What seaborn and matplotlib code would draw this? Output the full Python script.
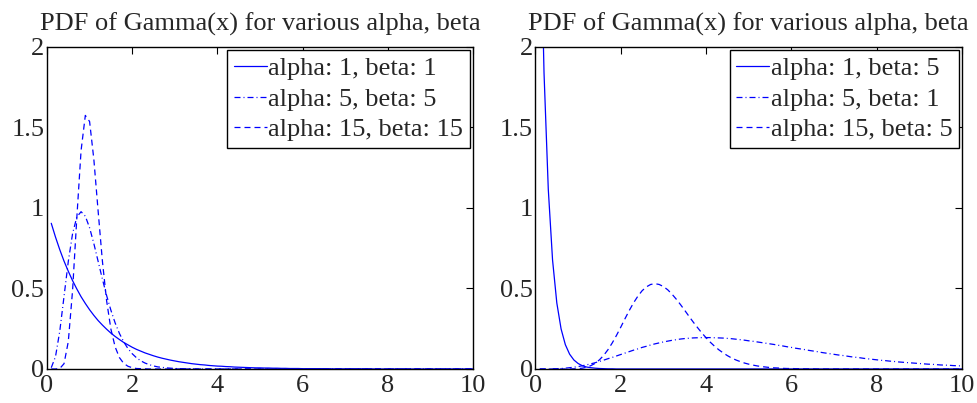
import numpy as np
import pandas as pd
import seaborn as sns
import matplotlib
matplotlib.use("Agg")
import matplotlib.pyplot as plt

# sample positions (common x grid of the curves)
x_grid = np.round(np.arange(1, 101) * 0.1, 1)

# ---- left panel series ----
left_a1_b1 = [0.905, 0.819, 0.741, 0.670, 0.607, 0.549, 0.497, 0.449, 0.407, 0.368,
              0.333, 0.301, 0.273, 0.247, 0.223, 0.202, 0.183, 0.165, 0.150, 0.135,
              0.122, 0.111, 0.100, 0.091, 0.082, 0.074, 0.067, 0.061, 0.055, 0.050,
              0.045, 0.041, 0.037, 0.033, 0.030, 0.027, 0.025, 0.022, 0.020, 0.018,
              0.017, 0.015, 0.014, 0.012, 0.011, 0.010, 0.009, 0.008, 0.007, 0.007,
              0.006, 0.006, 0.005, 0.005, 0.004, 0.004, 0.003, 0.003, 0.003, 0.002,
              0.002, 0.002, 0.002, 0.002, 0.002, 0.001, 0.001, 0.001, 0.001, 0.001,
              0.001, 0.001, 0.001, 0.001, 0.001, 0.001, 0.000, 0.000, 0.000, 0.000,
              0.000, 0.000, 0.000, 0.000, 0.000, 0.000, 0.000, 0.000, 0.000, 0.000,
              0.000, 0.000, 0.000, 0.000, 0.000, 0.000, 0.000, 0.000, 0.000, 0.000]
left_a5_b5 = [0.008, 0.077, 0.235, 0.451, 0.668, 0.840, 0.944, 0.977, 0.949, 0.877,
              0.779, 0.669, 0.559, 0.456, 0.365, 0.286, 0.221, 0.169, 0.127, 0.095,
              0.070, 0.051, 0.037, 0.027, 0.019, 0.013, 0.010, 0.007, 0.005, 0.003,
              0.002, 0.002, 0.001, 0.001, 0.000, 0.000, 0.000, 0.000, 0.000, 0.000,
              0.000, 0.000, 0.000, 0.000, 0.000, 0.000, 0.000, 0.000, 0.000, 0.000,
              0.000, 0.000, 0.000, 0.000, 0.000, 0.000, 0.000, 0.000, 0.000, 0.000,
              0.000, 0.000, 0.000, 0.000, 0.000, 0.000, 0.000, 0.000, 0.000, 0.000,
              0.000, 0.000, 0.000, 0.000, 0.000, 0.000, 0.000, 0.000, 0.000, 0.000,
              0.000, 0.000, 0.000, 0.000, 0.000, 0.000, 0.000, 0.000, 0.000, 0.000,
              0.000, 0.000, 0.000, 0.000, 0.000, 0.000, 0.000, 0.000, 0.000, 0.000]
left_a15_b15 = [0.000, 0.000, 0.003, 0.033, 0.170, 0.486, 0.938, 1.357, 1.575, 1.537,
                1.302, 0.982, 0.672, 0.423, 0.248, 0.137, 0.071, 0.035, 0.017, 0.008,
                0.003, 0.002, 0.001, 0.000, 0.000, 0.000, 0.000, 0.000, 0.000, 0.000,
                0.000, 0.000, 0.000, 0.000, 0.000, 0.000, 0.000, 0.000, 0.000, 0.000,
                0.000, 0.000, 0.000, 0.000, 0.000, 0.000, 0.000, 0.000, 0.000, 0.000,
                0.000, 0.000, 0.000, 0.000, 0.000, 0.000, 0.000, 0.000, 0.000, 0.000,
                0.000, 0.000, 0.000, 0.000, 0.000, 0.000, 0.000, 0.000, 0.000, 0.000,
                0.000, 0.000, 0.000, 0.000, 0.000, 0.000, 0.000, 0.000, 0.000, 0.000,
                0.000, 0.000, 0.000, 0.000, 0.000, 0.000, 0.000, 0.000, 0.000, 0.000,
                0.000, 0.000, 0.000, 0.000, 0.000, 0.000, 0.000, 0.000, 0.000, 0.000]

# ---- right panel series ----
right_a1_b5 = [3.033, 1.839, 1.116, 0.677, 0.410, 0.249, 0.151, 0.092, 0.056, 0.034,
               0.020, 0.012, 0.008, 0.005, 0.003, 0.002, 0.001, 0.001, 0.000, 0.000,
               0.000, 0.000, 0.000, 0.000, 0.000, 0.000, 0.000, 0.000, 0.000, 0.000,
               0.000, 0.000, 0.000, 0.000, 0.000, 0.000, 0.000, 0.000, 0.000, 0.000,
               0.000, 0.000, 0.000, 0.000, 0.000, 0.000, 0.000, 0.000, 0.000, 0.000,
               0.000, 0.000, 0.000, 0.000, 0.000, 0.000, 0.000, 0.000, 0.000, 0.000,
               0.000, 0.000, 0.000, 0.000, 0.000, 0.000, 0.000, 0.000, 0.000, 0.000,
               0.000, 0.000, 0.000, 0.000, 0.000, 0.000, 0.000, 0.000, 0.000, 0.000,
               0.000, 0.000, 0.000, 0.000, 0.000, 0.000, 0.000, 0.000, 0.000, 0.000,
               0.000, 0.000, 0.000, 0.000, 0.000, 0.000, 0.000, 0.000, 0.000, 0.000]
right_a5_b1 = [0.000, 0.000, 0.000, 0.001, 0.002, 0.003, 0.005, 0.008, 0.011, 0.015,
               0.020, 0.026, 0.032, 0.039, 0.047, 0.055, 0.064, 0.072, 0.081, 0.090,
               0.099, 0.108, 0.117, 0.125, 0.134, 0.141, 0.149, 0.156, 0.162, 0.168,
               0.173, 0.178, 0.182, 0.186, 0.189, 0.191, 0.193, 0.194, 0.195, 0.195,
               0.195, 0.194, 0.193, 0.192, 0.190, 0.188, 0.185, 0.182, 0.179, 0.175,
               0.172, 0.168, 0.164, 0.160, 0.156, 0.152, 0.147, 0.143, 0.138, 0.134,
               0.129, 0.125, 0.121, 0.116, 0.112, 0.108, 0.103, 0.099, 0.095, 0.091,
               0.087, 0.084, 0.080, 0.076, 0.073, 0.070, 0.066, 0.063, 0.060, 0.057,
               0.054, 0.052, 0.049, 0.047, 0.044, 0.042, 0.040, 0.038, 0.036, 0.034,
               0.032, 0.030, 0.029, 0.027, 0.025, 0.024, 0.023, 0.021, 0.020, 0.019]
right_a15_b5 = [0.000, 0.000, 0.000, 0.000, 0.000, 0.000, 0.000, 0.000, 0.001, 0.002,
                0.005, 0.011, 0.021, 0.035, 0.057, 0.085, 0.120, 0.162, 0.209, 0.260,
                0.313, 0.364, 0.411, 0.452, 0.486, 0.510, 0.525, 0.530, 0.525, 0.512,
                0.492, 0.465, 0.434, 0.400, 0.364, 0.327, 0.291, 0.257, 0.224, 0.194,
                0.166, 0.141, 0.119, 0.100, 0.083, 0.068, 0.056, 0.046, 0.037, 0.030,
                0.024, 0.019, 0.015, 0.012, 0.009, 0.007, 0.006, 0.004, 0.003, 0.003,
                0.002, 0.002, 0.001, 0.001, 0.001, 0.000, 0.000, 0.000, 0.000, 0.000,
                0.000, 0.000, 0.000, 0.000, 0.000, 0.000, 0.000, 0.000, 0.000, 0.000,
                0.000, 0.000, 0.000, 0.000, 0.000, 0.000, 0.000, 0.000, 0.000, 0.000,
                0.000, 0.000, 0.000, 0.000, 0.000, 0.000, 0.000, 0.000, 0.000, 0.000]

left_labels = ["alpha: 1, beta: 1", "alpha: 5, beta: 5", "alpha: 15, beta: 15"]
right_labels = ["alpha: 1, beta: 5", "alpha: 5, beta: 1", "alpha: 15, beta: 5"]
title_text = "PDF of Gamma(x) for various alpha, beta"
x_ticks = [0, 2, 4, 6, 8, 10]
y_ticks = [0, 0.5, 1, 1.5, 2]
y_tick_labels = ["0", "0.5", "1", "1.5", "2"]

sns.set_style("white")
plt.rcParams["font.family"] = ["Liberation Serif", "DejaVu Serif"]

fig = plt.figure(figsize=(9.77, 4.03), dpi=100)
ax1 = fig.add_axes([0.0481, 0.0844, 0.4360, 0.7990])
ax2 = fig.add_axes([0.5481, 0.0844, 0.4365, 0.7990])

styles = ["-", (0, (4.8, 2.4, 0.8, 2.4)), (0, (4.8, 3.2))]
FS = 19

def draw(ax, series, labels):
    for vals, lab, ls in zip(series, labels, styles):
        df = pd.DataFrame({"x": x_grid, "y": vals})
        sns.lineplot(data=df, x="x", y="y", ax=ax, color="#0000ff",
                     linewidth=0.9, linestyle=ls, label=lab, sort=False)
    ax.set_xlim(0, 10)
    ax.set_ylim(0, 2)
    ax.set_xticks(x_ticks)
    ax.set_yticks(y_ticks)
    ax.set_yticklabels(y_tick_labels)
    ax.set_xlabel("")
    ax.set_ylabel("")
    ax.set_title(title_text, fontsize=FS, pad=12)
    ax.tick_params(direction="in", length=5, width=0.8, top=True, right=True,
                   labelsize=FS, color="black", pad=2)
    ax.tick_params(axis="x", pad=4)
    for s in ax.spines.values():
        s.set_visible(True)
        s.set_color("black")
        s.set_linewidth(1.0)
    leg = ax.legend(loc="upper right", fontsize=FS, frameon=True, fancybox=False,
                    shadow=False, borderaxespad=0.12, borderpad=0.25,
                    labelspacing=0.27, handlelength=1.25, handletextpad=0.05)
    leg.get_frame().set_edgecolor("black")
    leg.get_frame().set_linewidth(1.0)
    leg.get_frame().set_alpha(1)

draw(ax1, [left_a1_b1, left_a5_b5, left_a15_b15], left_labels)
draw(ax2, [right_a1_b5, right_a5_b1, right_a15_b5], right_labels)

fig.savefig("out.png", dpi=100, facecolor="white")
